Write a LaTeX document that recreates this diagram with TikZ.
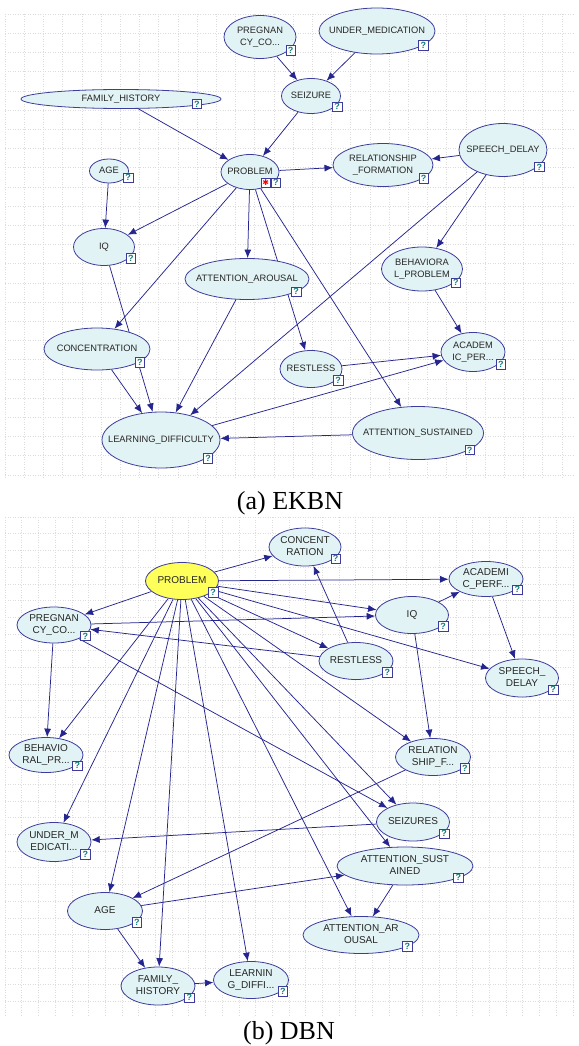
\documentclass[tikz,border=0pt]{standalone}
\usepackage{fontspec}
\setmainfont{Liberation Serif}
\setsansfont{Liberation Sans}
\newfontfamily\symbfont{DejaVu Sans}
\usetikzlibrary{arrows.meta,positioning,shapes.geometric,backgrounds}

\definecolor{nodefill}{HTML}{E2F3F5}
\definecolor{nodeline}{HTML}{3C3C9C}
\definecolor{edgeblue}{HTML}{252590}
\definecolor{probfill}{HTML}{FFFF5A}
\definecolor{qteal}{HTML}{157A7A}
\definecolor{gridgray}{HTML}{DCDCDC}

\newcommand{\ntext}[1]{\makebox[0pt]{\begin{tabular}{@{}c@{}}#1\end{tabular}}}

\begin{document}
\begin{tikzpicture}[x=1pt, y=-1pt,
    bn/.style={ellipse, draw=nodeline, fill=nodefill, line width=0.8pt, inner sep=0pt,
               text=black!85, font=\sffamily\fontsize{9.3}{11.5}\selectfont},
    bnb/.style={bn, font=\sffamily\fontsize{10}{12}\selectfont},
    sz/.style 2 args={minimum width=#1pt, minimum height=#2pt},
    qicon/.style={draw=nodeline, fill=white, line width=0.6pt, inner sep=0pt,
                  minimum size=9.5pt, text=qteal, font=\sffamily\bfseries\fontsize{9}{9}\selectfont},
    flow/.style={draw=edgeblue, line width=0.75pt, -{Latex[length=8.5pt,width=7pt]}},
    gridline/.style={draw=gridgray, line width=0.5pt, dash pattern=on 1pt off 1.5pt},
    capt/.style={font=\fontsize{26}{30}\selectfont}]

  \useasboundingbox (0,0) rectangle (578,1046);

  % (a) EKBN
  \node[bn, sz={72}{43}]  (pa-preg)   at (260,37)  {\ntext{PREGNAN\\CY\_CO...}};
  \node[bn, sz={116}{46}] (pa-med)    at (377,31)  {\ntext{UNDER\_MEDICATION}};
  \node[bn, sz={59}{35}]  (pa-seiz)   at (311,96)  {\ntext{SEIZURE}};
  \node[bn, sz={200}{19}] (pa-fam)    at (121,99)  {\ntext{FAMILY\_HISTORY}};
  \node[bn, sz={58}{35}]  (pa-prob)   at (250,172) {\ntext{PROBLEM}};
  \node[bn, sz={39}{24}]  (pa-age)    at (109,171) {\ntext{AGE}};
  \node[bn, sz={100}{43}] (pa-rel)    at (383,165) {\ntext{RELATIONSHIP\\\_FORMATION}};
  \node[bn, sz={88}{53}]  (pa-speech) at (503,150) {\ntext{SPEECH\_DELAY}};
  \node[bn, sz={61}{37}]  (pa-iq)     at (104,247) {\ntext{IQ}};
  \node[bn, sz={124}{41}] (pa-arous)  at (247,279) {\ntext{ATTENTION\_AROUSAL}};
  \node[bn, sz={81}{44}]  (pa-behav)  at (422,269) {\ntext{BEHAVIORA\\L\_PROBLEM}};
  \node[bn, sz={106}{42}] (pa-conc)   at (97,349)  {\ntext{CONCENTRATION}};
  \node[bn, sz={62}{37}]  (pa-rest)   at (311,369) {\ntext{RESTLESS}};
  \node[bn, sz={64}{39}]  (pa-acad)   at (473,352) {\ntext{ACADEM\\IC\_PER...}};
  \node[bn, sz={118}{56}] (pa-learn)  at (161,440) {\ntext{LEARNING\_DIFFICULTY}};
  \node[bn, sz={131}{53}] (pa-sust)   at (418,433) {\ntext{ATTENTION\_SUSTAINED}};
  \node[capt] (cap-a) at (290,503) {(a) EKBN};

  % (b) DBN
  \node[bnb, sz={73}{37}, fill=probfill] (pb-prob) at (182,581) {\ntext{PROBLEM}};
  \node[bnb, sz={72}{38}]  (pb-conc)   at (305,547) {\ntext{CONCENT\\RATION}};
  \node[bnb, sz={74}{35}]  (pb-acad)   at (486,579) {\ntext{ACADEMI\\C\_PERF...}};
  \node[bnb, sz={73}{37}]  (pb-iq)     at (412,615) {\ntext{IQ}};
  \node[bnb, sz={74}{36}]  (pb-preg)   at (54,625)  {\ntext{PREGNAN\\CY\_CO...}};
  \node[bnb, sz={74}{37}]  (pb-rest)   at (356,661) {\ntext{RESTLESS}};
  \node[bnb, sz={73}{38}]  (pb-speech) at (522,678) {\ntext{SPEECH\_\\DELAY}};
  \node[bnb, sz={74}{35}]  (pb-behav)  at (46,755)  {\ntext{BEHAVIO\\RAL\_PR...}};
  \node[bnb, sz={75}{37}]  (pb-rel)    at (433,757) {\ntext{RELATION\\SHIP\_F...}};
  \node[bnb, sz={73}{38}]  (pb-seiz)   at (413,822) {\ntext{SEIZURES}};
  \node[bnb, sz={74}{39}]  (pb-med)    at (54,842)  {\ntext{UNDER\_M\\EDICATI...}};
  \node[bnb, sz={136}{38}] (pb-sust)   at (405,866) {\ntext{ATTENTION\_SUST\\AINED}};
  \node[bnb, sz={75}{37}]  (pb-age)    at (105,911) {\ntext{AGE}};
  \node[bnb, sz={116}{37}] (pb-arous)  at (361,935) {\ntext{ATTENTION\_AR\\OUSAL}};
  \node[bnb, sz={74}{38}]  (pb-fam)    at (158,986) {\ntext{FAMILY\_\\HISTORY}};
  \node[bnb, sz={75}{37}]  (pb-learn)  at (251,980) {\ntext{LEARNIN\\G\_DIFFI...}};
  \node[capt] (cap-b) at (289,1033) {(b) DBN};

  \foreach \n in {pa-preg, pa-med, pa-seiz, pa-fam, pa-prob, pa-age, pa-rel, pa-speech,
                  pa-iq, pa-arous, pa-behav, pa-conc, pa-rest, pa-acad, pa-learn, pa-sust,
                  pb-prob, pb-conc, pb-acad, pb-iq, pb-preg, pb-rest, pb-speech, pb-behav,
                  pb-rel, pb-seiz, pb-med, pb-sust, pb-age, pb-arous, pb-fam, pb-learn}
    \node[qicon] (\n-q) at ([shift={(5pt,2pt)}]\n.south east) {?};
  \node[qicon, text=red, left=0pt of pa-prob-q, font=\symbfont\fontsize{8}{8}\selectfont] (pa-prob-s) {✱};

  \begin{scope}[on background layer]
    % dotted grids behind both nets
    \foreach \gx in {5,24.2,...,576} \draw[gridline] (\gx,14) -- (\gx,477);
    \foreach \gy in {14,33.2,...,478} \draw[gridline] (5,\gy) -- (575,\gy);
    \foreach \gx in {5,21.7,...,576} \draw[gridline] (\gx,517) -- (\gx,1015);
    \foreach \gy in {517,533.7,...,1016} \draw[gridline] (5,\gy) -- (575,\gy);

    \foreach \i/\j in {pa-preg/pa-seiz, pa-med/pa-seiz, pa-seiz/pa-prob, pa-fam/pa-prob,
                       pa-prob/pa-rel, pa-speech/pa-rel, pa-age/pa-iq, pa-prob/pa-iq,
                       pa-prob/pa-conc, pa-prob/pa-arous, pa-prob/pa-rest, pa-prob/pa-sust,
                       pa-iq/pa-learn, pa-conc/pa-learn, pa-arous/pa-learn, pa-speech/pa-learn,
                       pa-speech/pa-behav, pa-behav/pa-acad, pa-rest/pa-acad, pa-learn/pa-acad,
                       pa-sust/pa-learn}
      \draw[flow] (\i) -- (\j);

    \foreach \i/\j in {pb-prob/pb-conc, pb-prob/pb-acad, pb-prob/pb-iq, pb-prob/pb-preg,
                       pb-prob/pb-rest, pb-prob/pb-speech, pb-prob/pb-rel, pb-prob/pb-seiz,
                       pb-prob/pb-sust, pb-prob/pb-arous, pb-prob/pb-learn, pb-prob/pb-fam,
                       pb-prob/pb-age, pb-prob/pb-med, pb-prob/pb-behav,
                       pb-preg/pb-iq, pb-rest/pb-preg, pb-rest/pb-conc, pb-iq/pb-acad,
                       pb-acad/pb-speech, pb-iq/pb-rel, pb-preg/pb-seiz, pb-preg/pb-behav,
                       pb-sust/pb-arous, pb-seiz/pb-med, pb-rel/pb-age, pb-age/pb-sust,
                       pb-age/pb-fam, pb-fam/pb-learn}
      \draw[flow] (\i) -- (\j);
  \end{scope}
\end{tikzpicture}
\end{document}
